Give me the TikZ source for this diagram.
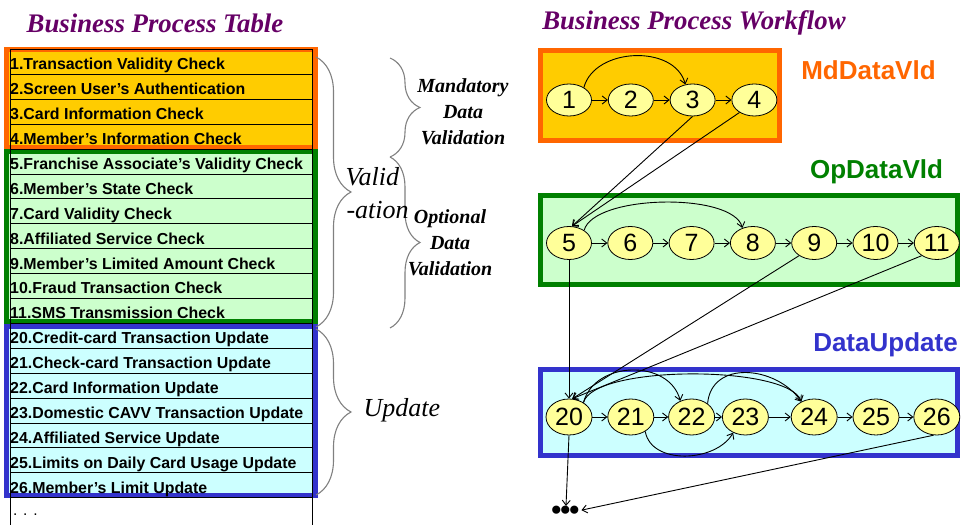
\documentclass[tikz,border=0pt]{standalone}
\usepackage{fontspec}
\setmainfont{Liberation Serif}
\setsansfont{Liberation Sans}
\usepackage{xcolor}
\usepackage{tikz}
\usetikzlibrary{arrows.meta,positioning,shapes.geometric,decorations.pathreplacing}

\definecolor{mdline}{RGB}{255,102,0}
\definecolor{mdfill}{RGB}{255,204,0}
\definecolor{opline}{RGB}{0,128,0}
\definecolor{opfill}{RGB}{204,255,204}
\definecolor{upline}{RGB}{51,51,204}
\definecolor{upfill}{RGB}{204,255,255}
\definecolor{procfill}{RGB}{255,255,153}
\definecolor{titlecol}{RGB}{102,0,102}

\tikzset{
    proc/.style={draw, ellipse, fill=procfill, line width=0.8pt, inner sep=0pt,
        minimum width=45pt, minimum height=33pt, font=\sffamily\fontsize{25}{25}\selectfont},
    flow/.style={-{Straight Barb[length=5pt,width=8pt]}, line width=0.9pt},
    grp/.style={line width=5pt},
    rowtext/.style={anchor=base west, inner sep=0pt, font=\sffamily\bfseries\fontsize{15.9}{18}\selectfont},
    curly/.style={draw=gray, line width=1.1pt, decorate, decoration={brace, amplitude=#1}},
    title/.style={text=titlecol, font=\bfseries\itshape\fontsize{26.8}{30}\selectfont},
    grpname/.style={anchor=base, font=\sffamily\bfseries\fontsize{26}{30}\selectfont}
}

\begin{document}
\begin{tikzpicture}[x=1pt, y=1pt]
            \useasboundingbox (0,0) rectangle (962,525);
            \node [title] (tabtitle) at (155,502) {Business Process Table};
            \node [title] (wftitle) at (694,502) {Business Process Workflow};

            \filldraw [grp, draw=mdline, fill=mdfill] (6,475) rectangle (315,377.5);
            \filldraw [grp, draw=opline, fill=opfill] (6,373.5) rectangle (315,203.5);
            \filldraw [grp, draw=upline, fill=upfill] (6,198.5) rectangle (315,29.5);
            \foreach \k in {0,...,18}
                \draw [line width=0.8pt] (10,{475.5-24.9*\k}) -- (312,{475.5-24.9*\k});
            \draw [line width=0.8pt] (10,475.5) -- (10,0);
            \draw [line width=0.8pt] (312,475.5) -- (312,0);
            \foreach \txt [count=\k] in {1.Transaction Validity Check, 2.Screen User’s Authentication,
                3.Card Information Check, 4.Member’s Information Check, 5.Franchise Associate’s Validity Check,
                6.Member’s State Check, 7.Card Validity Check, 8.Affiliated Service Check,
                9.Member’s Limited Amount Check, 10.Fraud Transaction Check, 11.SMS Transmission Check,
                20.Credit-card Transaction Update, 21.Check-card Transaction Update, 22.Card Information Update,
                23.Domestic CAVV Transaction Update, 24.Affiliated Service Update,
                25.Limits on Daily Card Usage Update, 26.Member’s Limit Update}
                \node [rowtext] (row\k) at (10,{480-24.9*\k}) {\txt};
            \node [rowtext, font=\sffamily\fontsize{15.5}{18}\selectfont] (rowmore) at (13,9) {. . .};

            \draw [curly=35pt] (316,468) -- (316,198);
            \draw [curly=35pt] (316,196) -- (316,30);
            \draw [curly=30pt] (390,467) -- (390,368);
            \draw [curly=30pt] (390,368) -- (390,197);
            \node [anchor=base west, font=\itshape\fontsize{26}{30}\selectfont] (valid) at (342,339) {Valid};
            \node [anchor=base west, font=\itshape\fontsize{26}{30}\selectfont] (ation) at (343,306) {-ation};
            \node [align=center, font=\bfseries\itshape\fontsize{20}{26}\selectfont] (mdtext) at (463,413) {Mandatory\\Data\\Validation};
            \node [align=center, font=\bfseries\itshape\fontsize{20}{26}\selectfont] (optext) at (450,282) {Optional\\Data\\Validation};
            \node [anchor=base west, font=\itshape\fontsize{26}{30}\selectfont] (update) at (360,108) {Update};

            \filldraw [grp, draw=mdline, fill=mdfill] (540.5,474.5) rectangle (779.5,384.5);
            \filldraw [grp, draw=opline, fill=opfill] (540.5,329.5) rectangle (957.5,240.5);
            \filldraw [grp, draw=upline, fill=upfill] (540.5,155.5) rectangle (957.5,69.5);
            \node [grpname, text=mdline] (mdname) at (868.5,445) {MdDataVld};
            \node [grpname, text=opline] (opname) at (876.5,346.5) {OpDataVld};
            \node [grpname, text=upline] (upname) at (885.5,173.5) {DataUpdate};

            \node [proc, minimum height=32pt] (n1) at (569,425) {1};
            \node [proc, minimum height=32pt, right=16pt of n1] (n2) {2};
            \node [proc, minimum height=32pt, right=16pt of n2] (n3) {3};
            \node [proc, minimum height=32pt, right=16pt of n3] (n4) {4};

            \node [proc] (n5) at (569,282) {5};
            \node [proc, right=15.5pt of n5] (n6) {6};
            \node [proc, right=15.5pt of n6] (n7) {7};
            \node [proc, right=15.5pt of n7] (n8) {8};
            \node [proc, right=15.5pt of n8] (n9) {9};
            \node [proc, right=15.5pt of n9] (n10) {10};
            \node [proc, right=15.5pt of n10] (n11) {11};

            \node [proc, minimum width=46pt, minimum height=36pt] (n20) at (569,108) {20};
            \node [proc, minimum width=46pt, minimum height=36pt, right=15pt of n20] (n21) {21};
            \node [proc, minimum width=46pt, minimum height=36pt, right=14pt of n21] (n22) {22};
            \node [proc, minimum width=46pt, minimum height=36pt, right=7pt of n22] (n23) {23};
            \node [proc, minimum width=46pt, minimum height=36pt, right=22pt of n23] (n24) {24};
            \node [proc, minimum width=46pt, minimum height=36pt, right=15pt of n24] (n25) {25};
            \node [proc, minimum width=46pt, minimum height=36pt, right=14pt of n25] (n26) {26};

            \node [anchor=base, inner sep=0pt, font=\bfseries\fontsize{50}{50}\selectfont] (more) at (566,11.5) {.\kern-3.5pt.\kern-3.5pt.};

            \foreach \a/\b in {n1/n2, n2/n3, n3/n4, n5/n6, n6/n7, n7/n8, n8/n9, n9/n10, n10/n11,
                n20/n21, n21/n22, n22/n23, n23/n24, n24/n25, n25/n26}
                \draw [flow] (\a) -- (\b);
            \draw [flow] (n1.40) to [out=75, in=105, looseness=1.05] (n3.115);
            \draw [flow] (n5.40) to [out=75, in=105, looseness=0.6] (n8.125);
            \draw [flow] (n20.45) to [out=75, in=105, looseness=1.15] (n22.125);
            \draw [flow] (n20.45) to [out=75, in=110, looseness=0.46] (n24.130);
            \draw [flow] (n22.40) to [out=85, in=125, looseness=1.2] (n24.130);
            \draw [flow] (n21.-45) to [out=-80, in=-120, looseness=1] (n23.-128);
            \draw [flow] (n3.south) -- (n5.80);
            \draw [flow] (n4.-140) -- (n5.80);
            \draw [flow] (n5.south) -- (n20.north);
            \draw [flow] (n9.-140) -- (n20.80);
            \draw [flow] (n11.-140) -- (n20.80);
            \draw [flow] (n20.south) -- (more.north);
            \draw [flow] (n26.-100) -- (more.east);
\end{tikzpicture}
\end{document}
